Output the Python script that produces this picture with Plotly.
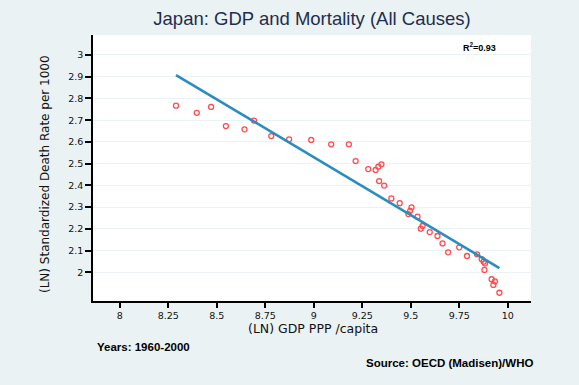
import numpy as np
import plotly.graph_objects as go

# Japan 1960-2000: log GDP PPP per capita vs log standardized death rate per 1000
ln_gdp = [8.290, 8.397, 8.471, 8.547, 8.643, 8.692, 8.781, 8.873, 8.987, 9.090,
          9.181, 9.216, 9.281, 9.319, 9.333, 9.349, 9.337, 9.363, 9.400, 9.443,
          9.488, 9.497, 9.504, 9.535, 9.552, 9.561, 9.598, 9.638, 9.664, 9.693,
          9.750, 9.790, 9.842, 9.866, 9.876, 9.883, 9.880, 9.917, 9.926, 9.934,
          9.957]
ln_mort = [2.767, 2.734, 2.761, 2.673, 2.658, 2.698, 2.627, 2.612, 2.609, 2.589,
           2.589, 2.512, 2.475, 2.471, 2.486, 2.497, 2.420, 2.399, 2.340, 2.318,
           2.268, 2.283, 2.299, 2.256, 2.201, 2.213, 2.185, 2.167, 2.133, 2.092,
           2.115, 2.075, 2.083, 2.060, 2.049, 2.041, 2.011, 1.968, 1.942, 1.958,
           1.906]

x_ticks = [8, 8.25, 8.5, 8.75, 9, 9.25, 9.5, 9.75, 10]
x_tick_text = ["8", "8.25", "8.5", "8.75", "9", "9.25", "9.5", "9.75", "10"]
y_ticks = [2, 2.1, 2.2, 2.3, 2.4, 2.5, 2.6, 2.7, 2.8, 2.9, 3]
y_tick_text = ["2", "2.1", "2.2", "2.3", "2.4", "2.5", "2.6", "2.7", "2.8", "2.9", "3"]
r_squared_text = "0.93"

# Least-squares line over the observed GDP range
x = np.array(ln_gdp)
y = np.array(ln_mort)
slope, intercept = np.polyfit(x, y, 1)
fit_x = [x.min(), x.max()]
fit_y = [slope * v + intercept for v in fit_x]

BG = "#EAF2F3"
SANS = "Liberation Sans, Arial, sans-serif"
WIDE = "DejaVu Sans, sans-serif"

# plot-region pixel box used to place the free-standing texts
L, R, T, B = 93, 531, 35, 301
W, H = R - L, B - T


def px(xp):
    return (xp - L) / W


def py(yp):
    return (B - yp) / H


fig = go.Figure()
fig.add_trace(go.Scatter(
    x=ln_gdp, y=ln_mort, mode="markers",
    marker=dict(symbol="circle-open", size=5, color="rgb(255,75,75)",
                line=dict(width=1.3, color="rgb(255,75,75)")),
    showlegend=False, cliponaxis=False))
fig.add_trace(go.Scatter(
    x=fit_x, y=fit_y, mode="lines",
    line=dict(color="#2B8CC0", width=2.6),
    showlegend=False))

fig.update_layout(
    width=579, height=385,
    paper_bgcolor=BG, plot_bgcolor="white",
    margin=dict(l=L, r=579 - R, t=T, b=385 - B),
    font=dict(family=WIDE, color="#111111"),
    title=dict(text="Japan: GDP and Mortality (All Causes)",
               x=(L + R) / 2 / 579, xanchor="center",
               y=1 - 19 / 385, yanchor="middle",
               font=dict(size=18.5, color="#1F2D4E", family=SANS)),
    xaxis=dict(range=[7.862, 10.12], tickvals=x_ticks, ticktext=x_tick_text,
               showgrid=False, zeroline=False, showline=True, linecolor="black",
               linewidth=1.5, ticks="outside", ticklen=5, tickwidth=1.5,
               tickcolor="black", tickfont=dict(size=9.5, family=WIDE)),
    yaxis=dict(range=[1.868, 3.092], tickvals=y_ticks, ticktext=y_tick_text,
               showgrid=True, gridcolor=BG, gridwidth=1.2, zeroline=False,
               showline=True, linecolor="black", linewidth=1.5, ticks="outside",
               ticklen=6, tickwidth=1.5, tickcolor="black",
               tickfont=dict(size=9.5, family=WIDE)),
)

fig.add_annotation(text="(LN) GDP PPP /capita", xref="paper", yref="paper",
                   x=px(313), y=py(328), xanchor="center", yanchor="middle",
                   showarrow=False, font=dict(size=12.5, family=WIDE, color="#111111"))
fig.add_annotation(text="(LN) Standardized Death Rate per 1000", xref="paper",
                   yref="paper", x=px(45), y=py(174), xanchor="center",
                   yanchor="middle", textangle=-90, showarrow=False,
                   font=dict(size=12, family=WIDE, color="#111111"))
fig.add_annotation(text="<b>R<sup>2</sup>=" + r_squared_text + "</b>", xref="paper",
                   yref="paper", x=px(479), y=py(47), xanchor="center",
                   yanchor="middle", showarrow=False,
                   font=dict(size=9, family=SANS, color="black"))
fig.add_annotation(text="<b>Years: 1960-2000</b>", xref="paper", yref="paper",
                   x=px(95), y=py(347), xanchor="left", yanchor="middle",
                   showarrow=False, font=dict(size=11.5, family=SANS, color="black"))
fig.add_annotation(text="<b>Source: OECD (Madisen)/WHO</b>", xref="paper",
                   yref="paper", x=px(535), y=py(363), xanchor="right",
                   yanchor="middle", showarrow=False,
                   font=dict(size=11.5, family=SANS, color="black"))

fig.write_html("out.html")
